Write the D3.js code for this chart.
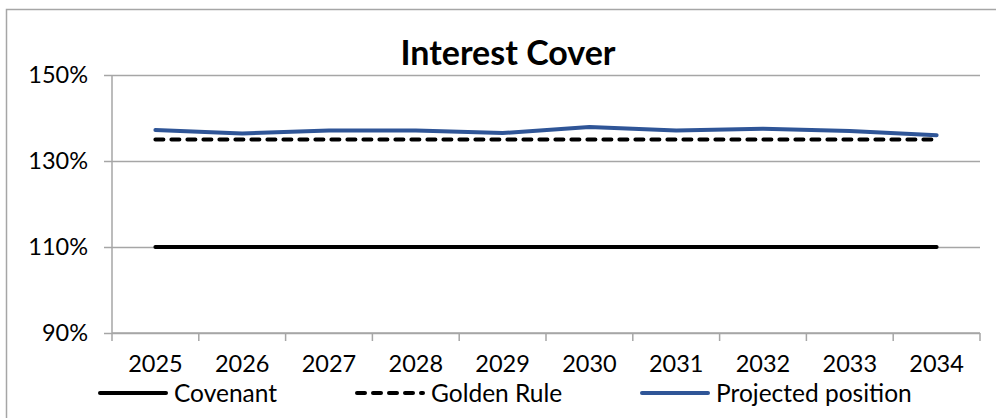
<!DOCTYPE html>
<html>
<head>
<meta charset="utf-8">
<script src="https://cdn.jsdelivr.net/npm/d3@7"></script>
<style>
  body { margin: 0; background: #fff; }
  text { font-family: Lato, "Open Sans", sans-serif; fill: #000; }
</style>
</head>
<body>
<svg id="chart" width="996" height="418"></svg>
<script>
const years = ["2025", "2026", "2027", "2028", "2029", "2030", "2031", "2032", "2033", "2034"];
const covenant = [110, 110, 110, 110, 110, 110, 110, 110, 110, 110];
const goldenRule = [135, 135, 135, 135, 135, 135, 135, 135, 135, 135];
const projected = [137.2, 136.4, 137.1, 137.1, 136.5, 137.9, 137.1, 137.5, 137.0, 136.0];
const yTicks = [90, 110, 130, 150];

const seriesNames = ["Covenant", "Golden Rule", "Projected position"];

const grey = "#a6a6a6";
const blue = "#2f5597";

const svg = d3.select("#chart");

// chart border (runs off the right and bottom of the picture)
svg.append("rect")
  .attr("x", 6.5).attr("y", 9.5)
  .attr("width", 1000).attr("height", 420)
  .attr("fill", "none").attr("stroke", grey).attr("stroke-width", 1.5);

const plot = { left: 112, right: 980, top: 75, bottom: 333 };

const x = d3.scaleBand().domain(years).range([plot.left, plot.right]);
const y = d3.scaleLinear().domain([90, 150]).range([plot.bottom, plot.top]);

// gridlines + y labels
const yAxis = svg.append("g")
  .attr("transform", `translate(${plot.left},0)`)
  .call(d3.axisLeft(y).tickValues(yTicks).tickFormat(d => d + "%")
    .tickSize(-(plot.right - plot.left)).tickPadding(24));
yAxis.select(".domain").remove();
yAxis.selectAll(".tick line")
  .attr("x1", -8).attr("stroke", grey).attr("stroke-width", 1.5);
yAxis.selectAll(".tick text")
  .attr("font-size", 23.5).attr("font-family", "Lato").attr("fill", "#000");

// vertical axis line
svg.append("line")
  .attr("x1", plot.left).attr("x2", plot.left)
  .attr("y1", plot.top).attr("y2", plot.bottom)
  .attr("stroke", grey).attr("stroke-width", 1.5);

// x axis with ticks between categories
const xAxis = svg.append("g")
  .attr("transform", `translate(0,${plot.bottom})`)
  .call(d3.axisBottom(x).tickSize(0).tickPadding(22));
xAxis.select(".domain").remove();
xAxis.selectAll(".tick text")
  .attr("font-size", 23.5).attr("font-family", "Lato").attr("fill", "#000");

svg.append("line")
  .attr("x1", plot.left).attr("x2", plot.right)
  .attr("y1", plot.bottom).attr("y2", plot.bottom)
  .attr("stroke", grey).attr("stroke-width", 1.5);

const bounds = years.map(d => x(d)).concat([plot.right]);
svg.append("g").selectAll("line")
  .data(bounds)
  .join("line")
  .attr("x1", d => d).attr("x2", d => d)
  .attr("y1", plot.bottom).attr("y2", plot.bottom + 8)
  .attr("stroke", grey).attr("stroke-width", 1.5);

// series lines
const line = d3.line()
  .x((d, i) => x(years[i]) + x.bandwidth() / 2)
  .y(d => y(d));

const styles = [
  { data: covenant, color: "#000", width: 4, dash: null },
  { data: goldenRule, color: "#000", width: 4, dash: "8,8" },
  { data: projected, color: blue, width: 4, dash: null }
];

styles.forEach(s => {
  svg.append("path")
    .datum(s.data)
    .attr("d", line)
    .attr("fill", "none")
    .attr("stroke", s.color)
    .attr("stroke-width", s.width)
    .attr("stroke-linecap", "round")
    .attr("stroke-linejoin", "round")
    .attr("stroke-dasharray", s.dash);
});

// title
svg.append("text")
  .attr("x", 508).attr("y", 65)
  .attr("text-anchor", "middle")
  .attr("font-size", 34).attr("font-weight", "bold")
  .text("Interest Cover");

// legend
const legendX = [98, 355, 640];
const legend = svg.append("g").selectAll("g")
  .data(seriesNames)
  .join("g")
  .attr("transform", (d, i) => `translate(${legendX[i]},393)`);

legend.append("line")
  .attr("x1", 2).attr("x2", 68)
  .attr("stroke", (d, i) => styles[i].color)
  .attr("stroke-width", 4)
  .attr("stroke-linecap", "round")
  .attr("stroke-dasharray", (d, i) => styles[i].dash);

legend.append("text")
  .attr("x", 76).attr("y", 9)
  .attr("font-size", 24.5)
  .text(d => d);
</script>
</body>
</html>
